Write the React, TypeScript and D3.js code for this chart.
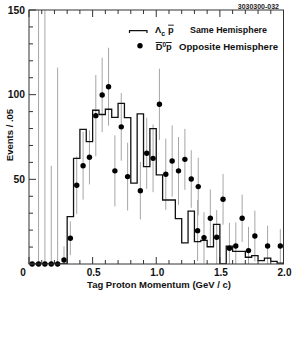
import React from 'react';
import * as d3 from 'd3';

// Λc p̄ same hemisphere, counts per 0.05 GeV/c bin starting at 0
const binWidth = 0.05;
const sameHemi = [
  0, 0, 0, 0, 0, 0, 28, 62.4, 79.5, 72.3,
  90.8, 88.3, 91.4, 86.6, 94.8, 86.5, 47.8, 88.6, 57.5, 80,
  52.6, 37.8, 37.8, 26.8, 12.5, 31.2, 13.2, 14, 10.2, 23.4,
  0, 10.5, 7.5, 7.5, 4, 5, 2, 3.5, 1.5, 0.5,
];

// D̄0 p̄ opposite hemisphere points
const oppMomentum = [
  0.025, 0.075, 0.125, 0.175, 0.225, 0.275, 0.325, 0.375, 0.425, 0.475,
  0.525, 0.575, 0.625, 0.675, 0.725, 0.775, 0.875, 0.925, 0.975, 1.025,
  1.075, 1.125, 1.175, 1.225, 1.275, 1.33, 1.325, 1.375, 1.425, 1.475,
  1.525, 1.575, 1.625, 1.675, 1.725, 1.775, 1.875, 1.975,
];
const oppCounts = [
  0, 0, 0, 0, 0, 2.4, 15.2, 46.5, 58, 63,
  87.6, 99.8, 104.7, 55, 81, 51.6, 43.3, 65.4, 62.4, 94.3,
  53, 60.8, 55, 61.8, 50.2, 45.7, 19.7, 15.6, 27, 15.8,
  38.2, 9.3, 10.6, 27, 7.9, 16.5, 10.6, 10.6,
];
const oppErrors = [
  0, 170, 170, 58, 116, 8, 10, 17, 20, 16,
  24, 22, 23, 21, 20, 20, 17, 21, 20, 21,
  21, 21, 20, 18, 17, 17, 18, 15, 17, 16,
  15, 15, 14, 14, 14, 15, 12, 10,
];

const xLabels = ['0', '0.5', '1.0', '1.5', '2.0'];
const xLabelValues = [0, 0.5, 1.0, 1.5, 2.0];
const yLabelValues = [50, 100, 150];

const font = 'Liberation Sans, Arial, Helvetica, sans-serif';

const x = d3.scaleLinear().domain([0, 2]).range([29, 283.5]);
const y = d3.scaleLinear().domain([0, 150]).range([264, 10]);

export default function App() {
  const [x0, x1] = x.range();
  const [y0, y1] = y.range();

  const histLine = d3
    .line<number>()
    .x((_, i) => x(i * binWidth))
    .y((v) => y(v))
    .curve(d3.curveStepAfter);
  const histPts = [...sameHemi, sameHemi[sameHemi.length - 1]];

  const xMinor = d3.range(0, 21).map((i) => i / 10);
  const yMinor = d3.range(0, 16).map((i) => i * 10);
  const isMajorX = (v: number) => Math.abs((v * 2) - Math.round(v * 2)) < 1e-6;

  return (
    <svg width={293} height={338} style={{ position: 'absolute', left: 0, top: 0, background: '#fff' }}>
      <defs>
        <clipPath id="frame">
          <rect x={x0} y={y1} width={x1 - x0} height={y0 - y1} />
        </clipPath>
      </defs>

      {/* error bars */}
      <g clipPath="url(#frame)" stroke="#a6a6a6" strokeWidth={1}>
        {oppMomentum.map((m, i) => (
          <line
            key={i}
            x1={x(m)}
            x2={x(m)}
            y1={y(Math.max(0, oppCounts[i] - oppErrors[i]))}
            y2={y(oppCounts[i] + oppErrors[i])}
          />
        ))}
      </g>

      {/* histogram */}
      <path
        d={histLine(histPts) || ''}
        fill="none"
        stroke="#111"
        strokeWidth={1.3}
        clipPath="url(#frame)"
      />

      {/* points */}
      <g fill="#000">
        {oppMomentum.map((m, i) => (
          <circle key={i} cx={x(m)} cy={y(oppCounts[i])} r={2.7} />
        ))}
      </g>

      {/* frame */}
      <rect x={x0} y={y1} width={x1 - x0} height={y0 - y1} fill="none" stroke="#333" strokeWidth={1} />

      {/* ticks */}
      <g stroke="#333" strokeWidth={1}>
        {xMinor.map((v) => {
          const len = isMajorX(v) ? 7 : 4;
          return (
            <g key={v}>
              <line x1={x(v)} x2={x(v)} y1={y0} y2={y0 - len} />
              <line x1={x(v)} x2={x(v)} y1={y1} y2={y1 + len} />
            </g>
          );
        })}
        {yMinor.map((v) => {
          const len = v % 50 === 0 ? 7 : 4;
          return <line key={v} x1={x0} x2={x0 + len} y1={y(v)} y2={y(v)} />;
        })}
      </g>

      {/* tick labels */}
      <g fontFamily={font} fontWeight="bold" fontSize={10} fill="#111">
        {xLabelValues.map((v, i) => (
          <text key={v} x={x(v) + (v === 0 ? -6 : 1)} y={276.3} textAnchor="middle">
            {xLabels[i]}
          </text>
        ))}
      </g>
      <g fontFamily={font} fontWeight="bold" fontSize={10.3} fill="#111">
        {yLabelValues.map((v) => (
          <text key={v} x={25} y={y(v) + 3.7} textAnchor="end">
            {v}
          </text>
        ))}
      </g>

      {/* axis titles */}
      <text x={159} y={287.5} textAnchor="middle" fontFamily={font} fontWeight="bold" fontSize={9.5} fill="#111">
        Tag Proton Momentum (GeV / c)
      </text>
      <text
        transform="translate(12.5,135) rotate(-90)"
        textAnchor="middle"
        fontFamily={font}
        fontWeight="bold"
        fontSize={9.5}
        fill="#111"
      >
        Events / .05
      </text>

      {/* figure id */}
      <text x={279} y={9} textAnchor="end" fontFamily={font} fontWeight="bold" fontSize={7} fill="#222">
        3030300-032
      </text>

      {/* legend */}
      <path d="M129.5,33 V30.7 H147 V33" fill="none" stroke="#111" strokeWidth={1.2} />
      <text x={155} y={32.7} fontFamily={font} fontWeight="bold" fontSize={9.3} fill="#111">
        Λ<tspan dy={3} fontSize={7}>c</tspan>
        <tspan dx={3} dy={-3} textDecoration="overline">p</tspan>
      </text>
      <text x={190} y={32.7} fontFamily={font} fontWeight="bold" fontSize={9.3} fill="#111" textLength={77} lengthAdjust="spacingAndGlyphs">
        Same Hemisphere
      </text>
      <circle cx={140} cy={45.7} r={2.7} fill="#000" />
      <text x={155.7} y={50} fontFamily={font} fontWeight="bold" fontSize={9.3} fill="#111">
        <tspan textDecoration="overline">D</tspan>
        <tspan dy={-3.5} fontSize={6.5}>0</tspan>
        <tspan dy={3.5} textDecoration="overline">p</tspan>
      </text>
      <text x={179} y={50} fontFamily={font} fontWeight="bold" fontSize={9.3} fill="#111" textLength={99} lengthAdjust="spacingAndGlyphs">
        Opposite Hemisphere
      </text>
    </svg>
  );
}
